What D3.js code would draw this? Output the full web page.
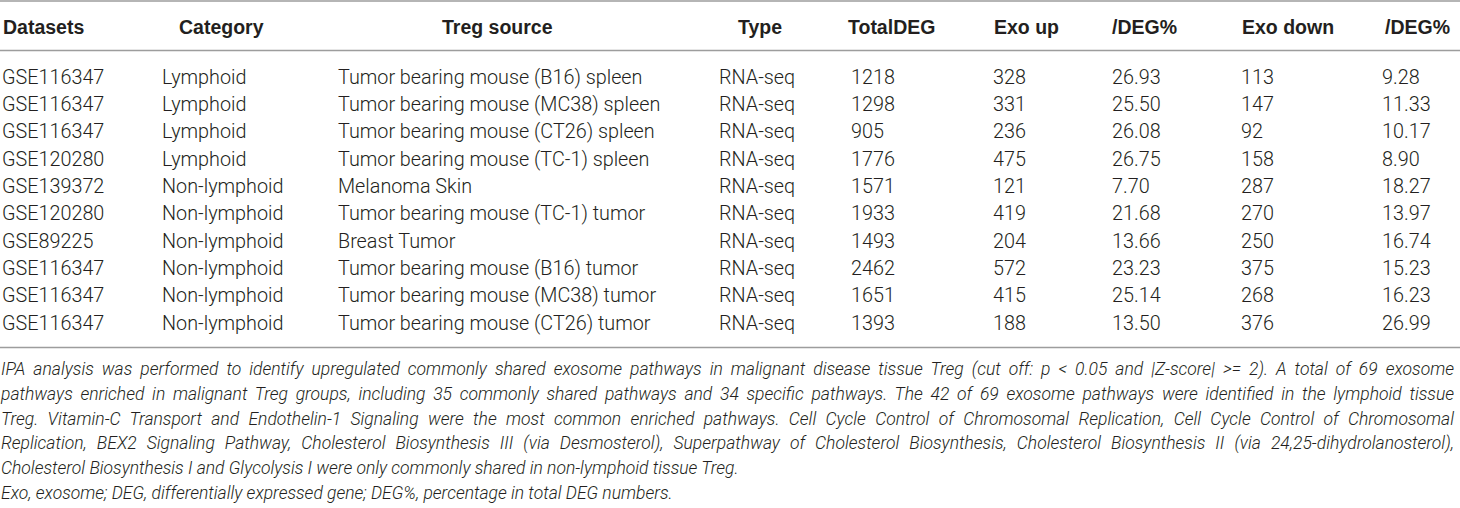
<!DOCTYPE html>
<html>
<head>
<meta charset="utf-8">
<script src="https://cdn.jsdelivr.net/npm/d3@7"></script>
<style>
  html, body { margin: 0; padding: 0; background: #fff; }
  svg { display: block; }
</style>
</head>
<body>
<svg id="chart" width="1460" height="508"></svg>
<script>
// ---------- data ----------
const headers = ["Datasets", "Category", "Treg source", "Type", "TotalDEG", "Exo up", "/DEG%", "Exo down", "/DEG%"];
const datasets = ["GSE116347", "GSE116347", "GSE116347", "GSE120280", "GSE139372", "GSE120280", "GSE89225", "GSE116347", "GSE116347", "GSE116347"];
const categories = ["Lymphoid", "Lymphoid", "Lymphoid", "Lymphoid", "Non-lymphoid", "Non-lymphoid", "Non-lymphoid", "Non-lymphoid", "Non-lymphoid", "Non-lymphoid"];
const tregSources = [
  "Tumor bearing mouse (B16) spleen",
  "Tumor bearing mouse (MC38) spleen",
  "Tumor bearing mouse (CT26) spleen",
  "Tumor bearing mouse (TC-1) spleen",
  "Melanoma Skin",
  "Tumor bearing mouse (TC-1) tumor",
  "Breast Tumor",
  "Tumor bearing mouse (B16) tumor",
  "Tumor bearing mouse (MC38) tumor",
  "Tumor bearing mouse (CT26) tumor"
];
const types = ["RNA-seq", "RNA-seq", "RNA-seq", "RNA-seq", "RNA-seq", "RNA-seq", "RNA-seq", "RNA-seq", "RNA-seq", "RNA-seq"];
const totalDEG = [1218, 1298, 905, 1776, 1571, 1933, 1493, 2462, 1651, 1393];
const exoUp = [328, 331, 236, 475, 121, 419, 204, 572, 415, 188];
const exoUpPct = [26.93, 25.50, 26.08, 26.75, 7.70, 21.68, 13.66, 23.23, 25.14, 13.50];
const exoDown = [113, 147, 92, 158, 287, 270, 250, 375, 268, 376];
const exoDownPct = [9.28, 11.33, 10.17, 8.90, 18.27, 13.97, 16.74, 15.23, 16.23, 26.99];
const footnoteLines = [
  "IPA analysis was performed to identify upregulated commonly shared exosome pathways in malignant disease tissue Treg (cut off: p < 0.05 and |Z-score| >= 2). A total of 69 exosome",
  "pathways enriched in malignant Treg groups, including 35 commonly shared pathways and 34 specific pathways. The 42 of 69 exosome pathways were identified in the lymphoid tissue",
  "Treg. Vitamin-C Transport and Endothelin-1 Signaling were the most common enriched pathways. Cell Cycle Control of Chromosomal Replication, Cell Cycle Control of Chromosomal",
  "Replication, BEX2 Signaling Pathway, Cholesterol Biosynthesis III (via Desmosterol), Superpathway of Cholesterol Biosynthesis, Cholesterol Biosynthesis II (via 24,25-dihydrolanosterol),",
  "Cholesterol Biosynthesis I and Glycolysis I were only commonly shared in non-lymphoid tissue Treg.",
  "Exo, exosome; DEG, differentially expressed gene; DEG%, percentage in total DEG numbers."
];
const justifiedLines = 4;

// ---------- layout ----------
const W = 1460;
const colKeys = d3.range(headers.length);
const headerX = [3, 179, 442, 738, 848, 994, 1112, 1242, 1385];
const cellX = [2, 162, 338, 719, 851, 993, 1112, 1241, 1382];
const fmt2 = d3.format(".2f");
const bodyFont = "Roboto, 'Liberation Sans', Arial, sans-serif";
const headFont = "'Liberation Sans', Arial, sans-serif";
const textColor = "#231f20";
const ruleColor = "#9d9d9d";

const rows = d3.range(datasets.length).map(i => [
  datasets[i], categories[i], tregSources[i], types[i],
  String(totalDEG[i]), String(exoUp[i]), fmt2(exoUpPct[i]), String(exoDown[i]), fmt2(exoDownPct[i])
]);

const svg = d3.select("#chart");
const xHead = d3.scaleOrdinal().domain(colKeys).range(headerX);
const xCell = d3.scaleOrdinal().domain(colKeys).range(cellX);
const yRow = d3.scaleBand().domain(d3.range(rows.length)).range([63.2, 336.2]);
const yFoot = d3.scaleLinear().domain([0, footnoteLines.length - 1]).range([375, 499]);

// rules
const rules = [1, 50.5, 347.5];
svg.selectAll("line.rule").data(rules).join("line")
  .attr("class", "rule")
  .attr("x1", 0).attr("x2", W)
  .attr("y1", d => d).attr("y2", d => d)
  .attr("stroke", ruleColor).attr("stroke-width", 1.6);

// header
svg.append("g").selectAll("text").data(headers).join("text")
  .attr("x", (d, i) => xHead(i))
  .attr("y", 34)
  .attr("font-family", headFont)
  .attr("font-weight", 700)
  .attr("font-size", 19.5)
  .attr("fill", textColor)
  .text(d => d);

// body
const rowG = svg.append("g").selectAll("g").data(rows).join("g")
  .attr("transform", (d, i) => `translate(0,${yRow(i) + yRow.bandwidth() / 2 + 7})`);
rowG.selectAll("text").data(d => d).join("text")
  .attr("x", (d, i) => xCell(i))
  .attr("y", 0)
  .attr("font-family", bodyFont)
  .attr("font-weight", 300)
  .attr("font-size", 19.8)
  .attr("fill", textColor)
  .text(d => d);

// footnote (justified first lines)
const foot = svg.append("g").selectAll("text").data(footnoteLines).join("text")
  .attr("x", 1)
  .attr("y", (d, i) => yFoot(i))
  .attr("font-family", bodyFont)
  .attr("font-weight", 300)
  .attr("font-style", "italic")
  .attr("font-size", 17.5)
  .attr("fill", textColor)
  .text(d => d);

// fit font so the widest line fits, then justify with word spacing
const targetRight = 1454;
let maxW = 0;
foot.each(function () { maxW = Math.max(maxW, this.getComputedTextLength()); });
const fs = 17.5 * Math.min(1, (targetRight - 1) / maxW);
foot.attr("font-size", fs);
foot.each(function (d, i) {
  if (i < justifiedLines) {
    const w = this.getComputedTextLength();
    const spaces = (d.match(/ /g) || []).length;
    const extra = (targetRight - 1 - w) / spaces;
    d3.select(this).attr("word-spacing", extra);
  }
});
</script>
</body>
</html>
